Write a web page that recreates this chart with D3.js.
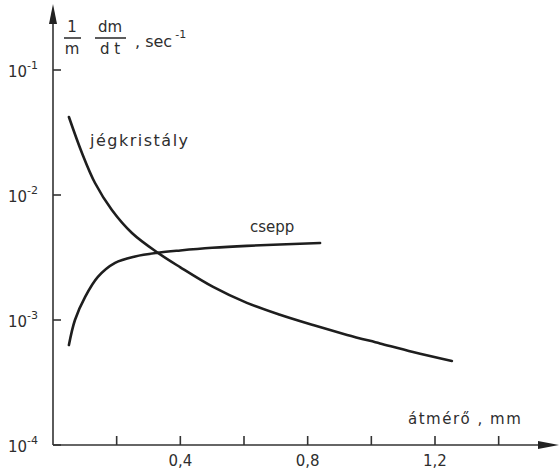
<!DOCTYPE html>
<html lang="hu">
<head>
<meta charset="UTF-8">
<title>jégkristály / csepp</title>
<script src="https://d3js.org/d3.v7.min.js"></script>
<style>
  body, html { margin: 0; background: #fff; overflow: hidden; }
  text { font-family: "DejaVu Sans", sans-serif; fill: #2e2e2e; }
  .curve { fill: none; stroke: #1e1e1e; stroke-width: 2.6px; stroke-linecap: round; }
  .axis { stroke: #333; stroke-width: 1.6px; fill: none; }
</style>
</head>
<body>
<script>
// átmérő (mm) -> 1/m dm/dt (sec^-1)
const jegD = [0.050, 0.091, 0.132, 0.185, 0.248, 0.330, 0.399, 0.503, 0.609, 0.713, 0.817, 0.924, 1.027, 1.131, 1.253];
const jegV = [0.0421, 0.0217, 0.01247, 0.00759, 0.00497, 0.00344, 0.00265, 0.00184, 0.00137, 0.00110, 0.00091, 0.00076, 0.00065, 0.000555, 0.00047];
const csepD = [0.050, 0.069, 0.101, 0.141, 0.195, 0.258, 0.330, 0.400, 0.500, 0.609, 0.839];
const csepV = [0.00063, 0.00100, 0.00153, 0.00221, 0.00286, 0.00322, 0.00345, 0.00360, 0.00378, 0.00392, 0.00413];
const yTicks = [1e-1, 1e-2, 1e-3, 1e-4];
const yExp = ["-1", "-2", "-3", "-4"];
const xTicks = [0.2, 0.4, 0.6, 0.8, 1.0, 1.2, 1.4];
const xLabels = {0.4: "0,4", 0.8: "0,8", 1.2: "1,2"};

const W = 560, H = 471;
const svg = d3.select("body").append("svg").attr("width", W).attr("height", H);

const x = d3.scaleLinear().domain([0, 1.2]).range([53, 435]);
const y = d3.scaleLog().domain([1e-4, 1e-1]).range([445, 70]);

// axes with arrows
svg.append("path").attr("class", "axis")
  .attr("d", `M${x(0)},${y(1e-4)}V12`);
svg.append("path").attr("d", `M${x(0)},4L${x(0) - 4},24L${x(0) + 4},24Z`).attr("fill", "#222");
svg.append("path").attr("class", "axis")
  .attr("d", `M${x(0)},${y(1e-4)}H550`);
svg.append("path").attr("d", `M559,${y(1e-4)}L538,${y(1e-4) - 4}L538,${y(1e-4) + 4}Z`).attr("fill", "#222");

// y ticks
yTicks.forEach((t, i) => {
  svg.append("line").attr("class", "axis")
    .attr("x1", x(0)).attr("x2", x(0) + 8).attr("y1", y(t)).attr("y2", y(t));
  const lab = svg.append("text").attr("x", 8).attr("y", y(t) + 7).attr("font-size", 15);
  lab.append("tspan").text("10");
  lab.append("tspan").attr("dy", -8).attr("font-size", 11).text(yExp[i]);
});

// x ticks
xTicks.forEach(t => {
  svg.append("line").attr("class", "axis")
    .attr("x1", x(t)).attr("x2", x(t)).attr("y1", y(1e-4)).attr("y2", y(1e-4) - 9);
  if (xLabels[t]) {
    svg.append("text").attr("x", x(t)).attr("y", 466).attr("text-anchor", "middle")
      .attr("font-size", 15).text(xLabels[t]);
  }
});

// curves
const line = d3.line().x(d => x(d[0])).y(d => y(d[1])).curve(d3.curveCatmullRom.alpha(0.5));
svg.append("path").attr("class", "curve").attr("d", line(d3.zip(jegD, jegV)));
svg.append("path").attr("class", "curve").attr("d", line(d3.zip(csepD, csepV)));

// labels
svg.append("text").attr("x", 90).attr("y", 146).attr("font-size", 16)
  .attr("letter-spacing", 1.5).text("jégkristály");
svg.append("text").attr("x", 250).attr("y", 232).attr("font-size", 15).text("csepp");
svg.append("text").attr("x", 408).attr("y", 424).attr("font-size", 15)
  .attr("letter-spacing", 1.5).text("átmérő , mm");

// y-axis title: 1/m dm/dt , sec^-1
const tt = svg.append("g");
tt.append("text").attr("x", 72).attr("y", 32).attr("font-size", 15).attr("text-anchor", "middle").text("1");
tt.append("line").attr("class", "axis").attr("stroke-width", 1.2).attr("x1", 64).attr("x2", 81).attr("y1", 38).attr("y2", 38);
tt.append("text").attr("x", 72).attr("y", 54).attr("font-size", 15).attr("text-anchor", "middle").text("m");
tt.append("text").attr("x", 110).attr("y", 32).attr("font-size", 15).attr("text-anchor", "middle").text("dm");
tt.append("line").attr("class", "axis").attr("stroke-width", 1.2).attr("x1", 95).attr("x2", 126).attr("y1", 38).attr("y2", 38);
tt.append("text").attr("x", 110).attr("y", 54).attr("font-size", 15).attr("text-anchor", "middle").text("d t");
const st = tt.append("text").attr("x", 135).attr("y", 47).attr("font-size", 16);
st.append("tspan").text(", sec");
st.append("tspan").attr("dy", -9).attr("dx", 3).attr("font-size", 11).text("-1");
</script>
</body>
</html>
